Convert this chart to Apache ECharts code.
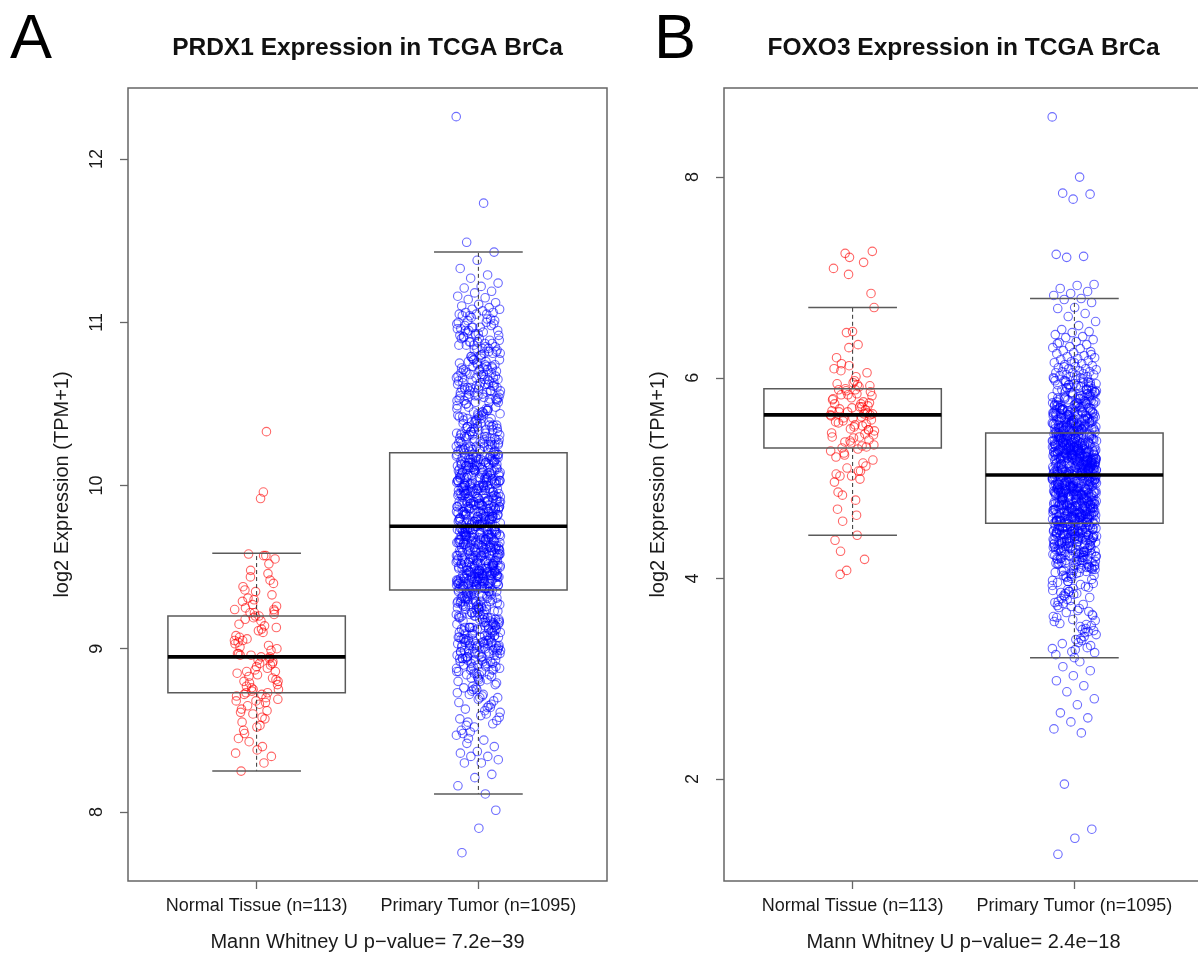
<!DOCTYPE html>
<html>
<head>
<meta charset="utf-8">
<title>PRDX1 and FOXO3 expression in TCGA BrCa</title>
<script src="https://cdn.jsdelivr.net/npm/echarts@6/dist/echarts.min.js"></script>
<style>
  html, body { margin: 0; padding: 0; background: #ffffff; overflow: hidden; }
  /* the right-hand frame runs a few pixels past the window edge */
  #chart { width: 1210px; height: 959px; }
</style>
</head>
<body>
<div id="chart"></div>
<script>
// ---- data -------------------------------------------------------------
const groupNames = ['Normal Tissue', 'Primary Tumor'];
const panelTitles = ['PRDX1 Expression in TCGA BrCa', 'FOXO3 Expression in TCGA BrCa'];
const panelLetters = ['A', 'B'];
const pValues = ['7.2e\u221239', '2.4e\u221218'];
const prdx1Ticks = [8, 9, 10, 11, 12];
const foxo3Ticks = [2, 4, 6, 8];

// log2(TPM+1), one value per sample
const prdx1Normal = [
  9.05, 8.72, 9.36, 8.91, 9.20, 8.45, 9.57, 8.83, 9.13, 8.66,
  9.29, 8.95, 8.60, 9.08, 9.96, 8.77, 9.24, 8.52, 9.01, 8.88,
  9.44, 8.69, 9.17, 8.80, 8.34, 9.22, 8.97, 8.57, 9.31, 8.86,
  9.11, 8.63, 9.52, 8.74, 9.03, 8.40, 9.25, 8.92, 8.68, 9.15,
  10.33, 8.79, 9.00, 8.53, 9.38, 8.90, 9.19, 8.71, 8.30, 9.06,
  9.23, 8.84, 8.61, 9.46, 8.96, 8.75, 9.12, 8.48, 9.33, 8.87,
  9.04, 8.67, 9.58, 8.81, 9.20, 8.55, 8.94, 9.27, 8.36, 9.10,
  8.73, 9.40, 8.89, 9.07, 8.62, 9.22, 8.78, 9.92, 8.50, 8.99,
  9.30, 8.85, 9.14, 8.65, 9.55, 8.93, 8.25, 9.02, 8.76, 9.24,
  8.58, 9.18, 8.82, 9.35, 8.97, 8.70, 8.43, 9.26, 8.91, 9.05,
  9.42, 8.75, 8.68, 9.57, 8.86, 9.21, 8.38, 8.96, 8.73, 9.48,
  8.80, 8.95, 8.72
];

const prdx1Tumor = [
  12.26, 11.73, 11.49, 11.43, 11.38, 11.33, 11.29, 11.27, 11.24, 11.22, 11.21, 11.19, 11.18, 11.16, 11.15,
  11.14, 11.12, 11.11, 11.10, 11.09, 11.08, 11.08, 11.07, 11.06, 11.06, 11.05, 11.05, 11.05,
  11.04, 10.83, 10.97, 10.91, 11.02, 10.86, 10.99, 10.81, 10.94, 11.01, 10.88, 10.96, 10.84, 11.03, 10.92,
  10.80, 10.98, 10.87, 10.93, 11.00, 10.85, 10.95, 10.82, 10.90, 11.04, 10.89, 10.97, 10.81, 10.94, 10.86,
  10.99, 10.84, 10.92, 11.02, 10.88, 10.95, 10.80, 10.91, 10.98, 10.83, 10.96, 10.87, 11.01, 10.85, 10.93,
  10.90, 10.82, 10.97, 10.89, 10.84, 10.95, 10.81, 10.92, 10.86, 11.00, 10.88,
  10.52, 10.71, 10.63, 10.58, 10.77, 10.66, 10.54, 10.69, 10.61, 10.74, 10.57, 10.65, 10.79, 10.51, 10.68,
  10.60, 10.73, 10.55, 10.67, 10.62, 10.76, 10.53, 10.70, 10.59, 10.64, 10.78, 10.56, 10.72, 10.50, 10.66,
  10.61, 10.75, 10.57, 10.68, 10.53, 10.63, 10.71, 10.58, 10.77, 10.52, 10.65, 10.60, 10.74, 10.55, 10.69,
  10.62, 10.79, 10.54, 10.67, 10.59, 10.72, 10.51, 10.64, 10.76, 10.56, 10.70, 10.61, 10.66, 10.53, 10.73,
  10.58, 10.68, 10.50, 10.63, 10.75, 10.55, 10.71, 10.60, 10.65, 10.78, 10.52, 10.69, 10.57, 10.62, 10.74,
  10.54, 10.67, 10.59, 10.72, 10.51, 10.64, 10.77, 10.56, 10.70, 10.61, 10.66, 10.53, 10.73, 10.58, 10.60,
  10.21, 10.38, 10.27, 10.45, 10.32, 10.24, 10.41, 10.29, 10.36, 10.22, 10.47, 10.33, 10.26, 10.43, 10.30,
  10.25, 10.39, 10.21, 10.34, 10.48, 10.28, 10.42, 10.23, 10.37, 10.31, 10.44, 10.26, 10.35, 10.20, 10.40,
  10.29, 10.46, 10.24, 10.33, 10.38, 10.22, 10.41, 10.27, 10.49, 10.30, 10.36, 10.21, 10.43, 10.32, 10.25,
  10.39, 10.28, 10.45, 10.23, 10.34, 10.40, 10.26, 10.47, 10.31, 10.37, 10.22, 10.42, 10.29, 10.35, 10.24,
  10.44, 10.30, 10.21, 10.38, 10.27, 10.46, 10.33, 10.25, 10.41, 10.20, 10.36, 10.28, 10.43, 10.32, 10.23,
  10.48, 10.34, 10.26, 10.39, 10.22, 10.31, 10.45, 10.29, 10.37, 10.24, 10.42, 10.30, 10.21, 10.35, 10.27,
  10.40, 10.23, 10.33, 10.47, 10.28, 10.36, 10.25, 10.44, 10.31, 10.22,
  9.76, 10.02, 9.88, 10.14, 9.81, 9.95, 10.09, 9.79, 10.17, 9.91, 10.05, 9.84, 9.98, 10.11, 9.77,
  10.00, 9.86, 10.15, 9.93, 9.80, 10.07, 9.89, 10.19, 9.83, 9.97, 10.03, 9.78, 10.12, 9.90, 10.06,
  9.85, 10.16, 9.94, 9.75, 10.01, 9.87, 10.10, 9.82, 9.96, 10.18, 9.79, 10.04, 9.92, 10.13, 9.88,
  9.99, 9.77, 10.08, 9.84, 10.15, 9.90, 10.02, 9.81, 9.95, 10.11, 9.86, 10.19, 9.76, 10.05, 9.93,
  10.09, 9.83, 9.97, 10.14, 9.80, 10.00, 9.89, 10.17, 9.78, 10.03, 9.94, 10.12, 9.85, 9.98, 10.07,
  9.75, 10.16, 9.91, 10.04, 9.82, 9.96, 10.10, 9.87, 10.18, 9.79, 10.01, 9.92, 10.13, 9.84, 9.99,
  10.06, 9.77, 9.95, 10.15, 9.88, 10.02, 9.81, 10.11, 9.93, 9.76, 10.08, 9.86, 10.19, 9.90, 10.00,
  9.83, 10.14, 9.97, 9.78, 10.05, 9.89, 10.17, 9.80, 9.94, 10.09, 9.85, 10.03, 9.98, 10.12, 9.75,
  9.92, 10.07, 9.79, 10.16, 9.87, 10.01, 9.82, 9.96, 10.13, 9.90, 10.04, 9.77, 10.10, 9.84, 9.99,
  10.18, 9.88, 10.02, 9.81, 9.95, 10.15, 9.76, 10.06, 9.91, 10.11, 9.86, 9.97, 10.00, 9.83, 10.09,
  9.78, 10.14, 9.93, 10.03, 9.89, 10.17, 9.80, 9.98, 10.08, 9.85, 10.12, 9.94, 9.75, 10.05, 9.90,
  10.01, 9.82, 10.16, 9.96, 9.79, 10.10, 9.87, 10.04, 9.92, 10.19, 9.84, 9.99, 10.13, 9.77, 10.07,
  9.88, 10.00, 9.81, 10.15, 9.95, 10.02, 9.86, 10.11, 9.76, 9.93, 10.06, 9.90, 10.18, 9.83, 9.97,
  10.09, 9.78, 10.04, 9.91, 10.14, 9.85, 9.99, 10.01, 9.80, 10.12, 9.94, 10.05, 9.87, 10.16, 9.89,
  9.76, 10.08, 9.96, 10.03, 9.82, 10.17, 9.92, 9.79, 10.10, 9.86, 10.00, 9.98, 10.13, 9.84, 10.07,
  9.90, 10.19, 9.77, 10.02, 9.94, 9.81, 10.15, 9.88, 10.06, 9.95, 10.11, 9.83, 10.04, 9.75, 9.97,
  10.14, 9.85, 10.01, 9.91, 10.09, 9.79, 10.18, 9.93, 9.99, 10.05, 9.87, 10.12, 9.80, 10.00, 9.96,
  9.82, 10.07, 9.89, 10.16, 9.78, 10.03, 9.92, 10.10, 9.86, 9.98, 10.13, 9.84, 10.02, 9.90, 10.08,
  9.95, 9.81, 10.17, 9.88,
  9.37, 9.62, 9.48, 9.71, 9.41, 9.55, 9.68, 9.39, 9.59, 9.45, 9.73, 9.52, 9.43, 9.66, 9.50,
  9.57, 9.38, 9.69, 9.46, 9.61, 9.42, 9.74, 9.53, 9.40, 9.64, 9.49, 9.70, 9.36, 9.58, 9.44,
  9.67, 9.51, 9.39, 9.72, 9.47, 9.60, 9.41, 9.56, 9.65, 9.43, 9.70, 9.54, 9.37, 9.63, 9.48,
  9.44, 9.69, 9.52, 9.38, 9.61, 9.45, 9.73, 9.50, 9.66, 9.40, 9.58, 9.47, 9.71, 9.42, 9.55,
  9.62, 9.36, 9.53, 9.68, 9.46, 9.59, 9.41, 9.74, 9.49, 9.64, 9.39, 9.57, 9.44, 9.70, 9.51,
  9.40, 9.66, 9.48, 9.72, 9.43, 9.56, 9.63, 9.37, 9.60, 9.46, 9.69, 9.52, 9.42, 9.67, 9.54,
  9.58, 9.45, 9.71, 9.38, 9.62, 9.50, 9.65, 9.41, 9.73, 9.47, 9.55, 9.39, 9.68, 9.44, 9.61,
  9.49, 9.74, 9.42, 9.57, 9.36, 9.64, 9.53, 9.70, 9.46, 9.59, 9.40, 9.66, 9.51, 9.43, 9.69,
  9.63, 9.48, 9.37, 9.72, 9.55, 9.44, 9.67, 9.50, 9.60, 9.41, 9.73, 9.54, 9.39, 9.62, 9.47,
  9.52, 9.68, 9.43, 9.58, 9.38, 9.71, 9.46, 9.65, 9.49, 9.61, 9.36, 9.56, 9.70, 9.45, 9.64,
  9.41, 9.57, 9.74, 9.50, 9.66, 9.42, 9.59, 9.47, 9.69, 9.39, 9.63, 9.53, 9.72, 9.44, 9.55,
  9.67, 9.40, 9.61, 9.48, 9.73, 9.37, 9.56, 9.65, 9.45, 9.70, 9.51, 9.38, 9.60, 9.46, 9.68,
  9.54, 9.43, 9.71, 9.49, 9.62, 9.41, 9.58, 9.74, 9.47, 9.64, 9.52, 9.39, 9.66, 9.44, 9.57,
  9.70, 9.36, 9.59, 9.50, 9.67, 9.42, 9.63, 9.48, 9.72, 9.45, 9.55, 9.69, 9.40, 9.61, 9.53,
  9.46, 9.65, 9.38, 9.73, 9.51, 9.60, 9.43, 9.68, 9.49, 9.57, 9.37, 9.71, 9.54, 9.44, 9.62,
  9.58, 9.47, 9.70, 9.41, 9.64, 9.52, 9.36, 9.66, 9.50, 9.74, 9.45, 9.59, 9.39, 9.69, 9.55,
  9.42, 9.61, 9.48, 9.72, 9.53, 9.67, 9.40, 9.56, 9.63, 9.46, 9.71, 9.51, 9.38, 9.65, 9.49,
  9.60, 9.44, 9.68, 9.37, 9.57, 9.73, 9.50, 9.62, 9.43, 9.66, 9.54, 9.41, 9.70, 9.47, 9.58,
  9.52, 9.64, 9.45,
  9.11, 9.28, 9.19, 9.34, 9.14, 9.25, 9.31, 9.12, 9.22, 9.17, 9.33, 9.26, 9.15, 9.29, 9.20,
  9.24, 9.13, 9.35, 9.18, 9.27, 9.10, 9.30, 9.21, 9.16, 9.32, 9.23, 9.12, 9.28, 9.19, 9.34,
  9.15, 9.26, 9.31, 9.11, 9.22, 9.29, 9.17, 9.33, 9.14, 9.25, 9.20, 9.35, 9.13, 9.27, 9.18,
  9.30, 9.16, 9.24, 9.10, 9.32, 9.21, 9.28, 9.12, 9.26, 9.19, 9.34, 9.15, 9.23, 9.31, 9.11,
  9.22, 9.29, 9.14, 9.33, 9.18, 9.25, 9.13, 9.30, 9.20, 9.35, 9.16, 9.27, 9.12, 9.24, 9.32,
  9.17, 9.28, 9.10, 9.21, 9.34, 9.15, 9.26, 9.19, 9.31, 9.13, 9.23, 9.29, 9.11, 9.33, 9.20,
  9.25, 9.14, 9.30, 9.18, 9.27, 9.12, 9.35, 9.22, 9.16, 9.32, 9.24, 9.10, 9.28, 9.19, 9.26,
  9.13, 9.31, 9.21, 9.17, 9.29,
  9.05, 8.88, 9.01, 8.95, 9.08, 8.83, 8.98, 9.03, 8.91, 9.07, 8.86, 8.99, 9.04, 8.93, 8.80,
  9.00, 9.06, 8.89, 8.96, 9.02, 8.84, 9.09, 8.97, 8.92, 9.05, 8.87, 9.01, 8.94, 8.81, 9.03,
  8.99, 9.07, 8.90, 9.04, 8.85, 8.96, 9.08, 8.93, 9.00, 8.82, 9.06, 8.98, 8.88, 9.02, 8.95,
  9.09, 8.91, 9.03, 8.86, 9.05, 8.97, 8.79, 9.01, 8.94, 9.07, 8.89, 8.99, 9.04, 8.84, 8.96,
  9.02, 8.92, 9.08, 8.87, 9.00, 8.95, 9.06, 8.83, 8.98, 9.03, 8.90, 9.05, 8.93, 8.81, 9.01,
  8.97, 9.09, 8.88, 9.04, 8.94, 8.99, 8.85, 9.07, 8.91, 9.02, 8.96, 8.80, 9.06, 8.92, 9.00,
  8.86, 9.03, 8.95, 9.08, 8.90, 8.98, 9.05, 8.82, 9.01, 8.93, 9.04, 8.87, 8.97, 9.07, 8.89,
  8.99, 9.02, 8.84, 8.94, 9.06,
  8.77, 8.61, 8.72, 8.53, 8.68, 8.75, 8.57, 8.64, 8.49, 8.70, 8.59, 8.76, 8.66, 8.52, 8.73,
  8.62, 8.55, 8.78, 8.69, 8.50, 8.65, 8.74, 8.58, 8.71, 8.63, 8.54, 8.76, 8.67, 8.60, 8.72,
  8.56, 8.70, 8.48, 8.64, 8.75,
  8.47, 8.44, 8.42, 8.40, 8.37, 8.36, 8.34, 8.34, 8.32, 8.30, 8.30, 8.23, 8.21, 8.16, 8.11, 8.45,
  8.01, 7.90, 7.75
];

const foxo3Normal = [
  5.63, 5.29, 6.07, 5.48, 5.80, 4.96, 5.71, 5.36, 7.26, 5.88,
  5.55, 5.12, 6.30, 5.67, 5.41, 4.83, 5.92, 5.60, 5.21, 5.76,
  6.45, 5.33, 5.84, 5.02, 5.65, 5.49, 7.09, 5.74, 5.25, 5.58,
  5.97, 4.69, 5.44, 5.83, 5.62, 5.07, 6.14, 5.38, 5.70, 4.38,
  5.52, 5.89, 5.18, 6.01, 5.66, 5.31, 7.20, 5.78, 4.99, 5.57,
  5.86, 5.40, 6.20, 5.64, 5.10, 5.47, 5.93, 4.27, 5.72, 5.35,
  6.09, 5.61, 5.23, 5.82, 5.53, 4.86, 5.68, 7.03, 5.45, 5.91,
  5.30, 5.75, 6.46, 5.56, 5.15, 5.87, 5.43, 4.63, 5.69, 6.05,
  5.37, 5.79, 5.07, 5.60, 6.84, 5.51, 5.94, 4.19, 5.66, 5.27,
  6.33, 5.83, 5.48, 5.02, 5.74, 5.32, 7.24, 5.64, 4.78, 5.88,
  5.54, 6.12, 5.41, 5.71, 4.57, 5.63, 5.95, 5.04, 7.15, 4.08,
  6.70, 4.43, 4.04
];

const foxo3Tumor = [
  8.60, 8.00, 7.84, 7.83, 7.78, 7.23, 7.21, 7.20, 6.93, 6.92, 6.89, 6.86, 6.84, 6.82,
  6.79, 6.78, 6.75, 6.70, 6.69, 6.64, 6.61, 6.56, 6.52, 6.48, 6.46, 6.45, 6.43, 6.41, 6.40,
  6.38, 6.36, 6.35, 6.33, 6.31, 6.30, 6.29, 6.27, 6.26, 6.25, 6.24, 6.22, 6.21, 6.20, 6.19,
  6.18, 6.17, 6.16, 6.15, 6.14, 6.13, 6.12, 6.11, 6.10, 6.09, 6.09, 6.08, 6.07, 6.06, 6.06,
  6.05, 6.05, 6.04, 6.03, 6.03, 6.02, 6.02, 6.01, 6.01, 6.00, 6.00, 6.11, 6.23, 6.15, 6.34,
  5.46, 5.78, 5.61, 5.92, 5.52, 5.70, 5.85, 5.49, 5.66, 5.97, 5.57, 5.74, 5.50, 5.88, 5.63,
  5.81, 5.47, 5.69, 5.95, 5.55, 5.76, 5.59, 5.90, 5.48, 5.72, 5.64, 5.84, 5.53, 5.99, 5.67,
  5.58, 5.87, 5.45, 5.73, 5.62, 5.93, 5.51, 5.79, 5.68, 5.56, 5.83, 5.46, 5.71, 5.96, 5.60,
  5.75, 5.49, 5.89, 5.65, 5.54, 5.82, 5.47, 5.69, 5.94, 5.58, 5.77, 5.52, 5.86, 5.63, 5.50,
  5.91, 5.57, 5.72, 5.48, 5.80, 5.66, 5.98, 5.53, 5.74, 5.61, 5.87, 5.45, 5.68, 5.55, 5.84,
  5.62, 5.95, 5.51, 5.77, 5.46, 5.70, 5.59, 5.90, 5.64, 5.49, 5.81, 5.56, 5.73, 5.93, 5.52,
  5.67, 5.85, 5.47, 5.60, 5.78, 5.54, 5.97, 5.65, 5.50, 5.83, 5.71, 5.58, 5.88, 5.48, 5.75,
  5.53, 5.69, 5.92, 5.57, 5.46, 5.80, 5.63, 5.86, 5.51, 5.72, 5.96, 5.55, 5.66, 5.49, 5.79,
  5.89, 5.61, 5.45, 5.76, 5.58, 5.94, 5.52, 5.68, 5.82, 5.47, 5.64, 5.99, 5.56, 5.74, 5.50,
  5.70, 5.84, 5.54, 5.62, 5.91, 5.48, 5.77, 5.59, 5.87, 5.53, 5.67, 5.46, 5.81, 5.60, 5.95,
  5.57, 5.73, 5.49, 5.86, 5.65, 5.52, 5.78, 5.62, 5.93, 5.55, 5.70, 5.47, 5.83, 5.58, 5.68,
  5.51, 5.90, 5.64, 5.75, 5.46, 5.60, 5.85, 5.54, 5.71, 5.97, 5.49, 5.66, 5.80, 5.57, 5.63,
  5.76, 5.48, 5.88, 5.59, 5.69, 5.53, 5.82, 5.61, 5.50, 5.92, 5.56, 5.74, 5.47, 5.65, 5.79,
  5.52, 5.67, 5.55, 5.72, 5.58,
  5.04, 5.31, 5.16, 5.42, 5.09, 5.25, 5.37, 5.06, 5.21, 5.13, 5.40, 5.28, 5.11, 5.34, 5.19,
  5.27, 5.07, 5.44, 5.15, 5.32, 5.03, 5.23, 5.38, 5.10, 5.29, 5.17, 5.41, 5.05, 5.35, 5.20,
  5.12, 5.36, 5.24, 5.08, 5.30, 5.18, 5.43, 5.14, 5.26, 5.04, 5.33, 5.22, 5.39, 5.09, 5.27,
  5.40, 5.16, 5.06, 5.31, 5.20, 5.35, 5.11, 5.28, 5.03, 5.24, 5.42, 5.13, 5.37, 5.18, 5.07,
  5.25, 5.44, 5.10, 5.32, 5.15, 5.21, 5.38, 5.05, 5.29, 5.19, 5.34, 5.08, 5.41, 5.23, 5.14,
  5.36, 5.06, 5.26, 5.17, 5.43, 5.12, 5.30, 5.22, 5.04, 5.39, 5.16, 5.27, 5.09, 5.33, 5.20,
  5.13, 5.31, 5.40, 5.07, 5.24, 5.18, 5.35, 5.03, 5.28, 5.11, 5.42, 5.21, 5.15, 5.37, 5.25,
  5.08, 5.34, 5.19, 5.44, 5.10, 5.29, 5.23, 5.05, 5.38, 5.14, 5.32, 5.26, 5.12, 5.41, 5.17,
  5.30, 5.04, 5.22, 5.36, 5.16, 5.27, 5.09, 5.43, 5.20, 5.33, 5.06, 5.25, 5.39, 5.13, 5.28,
  5.18, 5.40, 5.11, 5.24, 5.35, 5.07, 5.31, 5.15, 5.21, 5.42, 5.03, 5.29, 5.19, 5.37, 5.10,
  5.26, 5.14, 5.33, 5.05, 5.23, 5.44, 5.17, 5.30, 5.08, 5.36, 5.22, 5.12, 5.39, 5.27, 5.16,
  5.34, 5.09, 5.20, 5.41, 5.13, 5.28, 5.04, 5.25, 5.38, 5.18, 5.31, 5.06, 5.22, 5.43, 5.15,
  5.29, 5.11, 5.35, 5.21, 5.07, 5.32, 5.24, 5.14, 5.40, 5.19, 5.26, 5.03, 5.37, 5.16, 5.30,
  5.10, 5.23, 5.42, 5.17, 5.34, 5.08, 5.27, 5.20, 5.36, 5.12, 5.31, 5.05, 5.25, 5.39, 5.18,
  5.33, 5.15, 5.06, 5.28, 5.41, 5.21, 5.09, 5.35, 5.24, 5.13, 5.38, 5.19, 5.30, 5.04, 5.26,
  5.22, 5.37, 5.11, 5.29, 5.16, 5.43, 5.07, 5.32, 5.20, 5.27, 5.14, 5.40, 5.10, 5.23, 5.34,
  5.05, 5.28, 5.18, 5.39, 5.12, 5.25, 5.31, 5.08, 5.22, 5.36, 5.15, 5.44, 5.19, 5.29, 5.06,
  5.24, 5.33, 5.13, 5.21, 5.38, 5.09, 5.30, 5.17, 5.42, 5.11, 5.26, 5.35, 5.04, 5.20, 5.32,
  5.14, 5.27, 5.07, 5.23,
  4.56, 4.88, 4.71, 4.97, 4.62, 4.80, 4.93, 4.59, 4.75, 5.01, 4.67, 4.84, 4.58, 4.91, 4.73,
  4.86, 4.60, 4.99, 4.69, 4.82, 4.55, 4.77, 4.95, 4.64, 4.89, 4.72, 5.02, 4.57, 4.85, 4.66,
  4.78, 4.94, 4.61, 4.83, 4.70, 4.98, 4.63, 4.87, 4.76, 4.56, 4.92, 4.68, 5.00, 4.74, 4.81,
  4.59, 4.90, 4.72, 4.65, 4.96, 4.79, 4.57, 4.85, 4.70, 5.01, 4.62, 4.88, 4.75, 4.60, 4.94,
  4.83, 4.67, 4.99, 4.58, 4.80, 4.73, 4.92, 4.64, 4.86, 4.55, 4.77, 4.97, 4.69, 4.89, 4.61,
  4.74, 5.02, 4.66, 4.84, 4.57, 4.91, 4.71, 4.81, 4.63, 4.95, 4.78, 4.59, 4.87, 4.68, 5.00,
  4.62, 4.82, 4.76, 4.93, 4.56, 4.70, 4.98, 4.65, 4.85, 4.73, 4.90, 4.58, 4.79, 4.96, 4.67,
  4.88, 4.60, 4.75, 5.01, 4.69, 4.83, 4.55, 4.92, 4.72, 4.86, 4.64, 4.99, 4.77, 4.61, 4.94,
  4.71, 4.89, 4.57, 4.80, 4.97, 4.66, 4.84, 4.74, 4.59, 4.91, 4.68, 5.02, 4.78, 4.63, 4.87,
  4.96, 4.65, 4.82, 4.58, 4.90, 4.73, 4.99, 4.62, 4.85, 4.70, 4.93, 4.56, 4.79, 4.88, 4.67,
  4.75, 5.00, 4.61, 4.84, 4.69, 4.95, 4.57, 4.81, 4.72, 4.98, 4.64, 4.86, 4.77, 4.60, 4.92,
  4.83, 4.68, 5.01, 4.59, 4.76, 4.90, 4.66, 4.87, 4.55, 4.80, 4.97, 4.71, 4.94, 4.63, 4.85,
  4.70, 4.91, 4.58, 4.78, 4.99, 4.65, 4.84, 4.73, 4.96, 4.61, 4.89, 4.67, 5.02, 4.74, 4.82,
  4.57, 4.93, 4.69, 4.86, 4.76, 4.62, 4.98, 4.72, 4.88, 4.56, 4.81, 4.95, 4.64, 4.79, 5.00,
  4.68, 4.85, 4.60, 4.92, 4.75, 4.83, 4.58, 4.97, 4.70, 4.87, 4.63, 4.90, 4.77, 4.66, 4.94,
  4.80, 4.59, 4.99, 4.73, 4.86, 4.62, 4.91, 4.69, 4.84, 4.56, 4.96, 4.78, 4.65, 4.88, 4.71,
  5.01, 4.61, 4.82, 4.74, 4.93, 4.57, 4.87, 4.67, 4.98, 4.72, 4.85, 4.60, 4.90, 4.76, 4.64,
  4.95, 4.70, 4.83, 4.58, 4.89, 4.79, 5.02, 4.66, 4.81, 4.63, 4.92, 4.75, 4.97, 4.68, 4.86,
  4.73, 4.90, 4.61,
  4.52, 4.31, 4.45, 4.08, 4.38, 4.49, 4.19, 4.41, 3.97, 4.27, 4.53, 4.35, 4.12, 4.47, 4.23,
  4.40, 4.02, 4.50, 4.29, 4.15, 4.44, 4.36, 3.93, 4.25, 4.51, 4.33, 4.10, 4.46, 4.21, 4.39,
  4.54, 4.17, 4.43, 4.30, 4.05, 4.48, 4.26, 4.37, 3.99, 4.42, 4.14, 4.50, 4.32, 4.22, 4.46,
  4.07, 4.39, 4.28, 4.52, 4.18, 4.44, 3.95, 4.34, 4.48, 4.11, 4.41, 4.24, 4.53, 4.03, 4.37,
  4.45, 4.20, 4.31, 4.49, 4.13, 4.40, 4.27, 3.91, 4.47, 4.35, 4.16, 4.51, 4.09, 4.42, 4.29,
  4.38, 4.54, 4.22, 4.06, 4.44, 4.33, 4.48, 4.15, 4.26, 4.01, 4.43, 4.36, 4.52, 4.19, 4.30,
  4.47, 4.10, 4.40, 4.25, 4.50, 3.96, 4.34, 4.45, 4.17, 4.39, 4.28, 4.53, 4.04, 4.42, 4.21,
  4.32, 4.49, 4.14, 4.37, 4.46, 4.23, 3.98, 4.41, 4.30, 4.51, 4.08, 4.44, 4.27, 4.35, 4.12,
  4.48, 4.20, 4.43, 4.02, 4.38, 4.52, 4.26, 4.16, 4.45, 4.33, 3.92, 4.40, 4.50, 4.24, 4.36,
  4.11, 4.47, 4.29, 4.54, 4.18, 4.41, 4.05, 4.34, 4.49, 4.22, 4.39, 3.94, 4.44, 4.31, 4.13,
  4.46, 4.27, 4.51, 4.09, 4.37, 4.20, 4.43, 4.00, 4.32, 4.48, 4.15, 4.40, 4.25, 4.53, 4.07,
  4.35, 4.42, 4.18, 4.50, 4.28, 3.90, 4.45, 4.23, 4.38, 4.03, 4.47, 4.30, 4.14, 4.52, 4.34,
  4.21, 4.44, 4.10, 4.39, 4.49, 4.26, 3.97, 4.36, 4.42, 4.16, 4.53, 4.32, 4.06, 4.46, 4.24,
  4.41, 4.19, 4.48, 4.28, 4.37,
  3.88, 3.52, 3.75, 3.33, 3.84, 3.61, 3.42, 3.79, 3.26, 3.68, 3.86, 3.47, 3.72, 3.57, 3.38,
  3.82, 3.64, 3.29, 3.77, 3.50, 3.87, 3.44, 3.70, 3.35, 3.81, 3.59, 3.24, 3.74, 3.66, 3.48,
  3.85, 3.55, 3.31, 3.78, 3.62, 3.40, 3.83, 3.53, 3.21, 3.73, 3.46, 3.89, 3.58, 3.36, 3.80,
  3.67, 3.27, 3.76, 3.49, 3.85, 3.63, 3.39, 3.71, 3.54, 3.87, 3.30,
  3.17, 3.12, 3.08, 3.03, 2.98, 2.93, 2.87, 2.80, 2.74, 2.66, 2.61, 2.57, 2.50, 2.46,
  1.95, 1.50, 1.41, 1.25
];

// box summaries per group: [lower whisker, Q1, median, Q3, upper whisker]
const prdx1Box = [
  [8.25, 8.73, 8.95, 9.20, 9.585],
  [8.11, 9.36, 9.75, 10.20, 11.43]
];
const foxo3Box = [
  [4.43, 5.30, 5.63, 5.89, 6.70],
  [3.21, 4.55, 5.03, 5.45, 6.79]
];

// ---- drawing ----------------------------------------------------------
const FONT = "'Liberation Sans', Arial, Helvetica, sans-serif";
const TEXT = '#1a1a1a';
const FRAME = '#666666';
const PANEL_TOP = 88;
const PANEL_H = 793;
const PANEL_W = 479;
const panelLeft = [128, 724];
const yRanges = [[7.5766, 12.4356], [0.984, 8.888]];
const yTicks = [prdx1Ticks, foxo3Ticks];
const normals = [prdx1Normal, foxo3Normal];
const tumors = [prdx1Tumor, foxo3Tumor];
const boxes = [prdx1Box, foxo3Box];
const pointColors = ['rgba(255,0,0,0.75)', 'rgba(0,0,255,0.72)'];

// sideways spread of the points around each group centre (±0.1 on the x scale);
// golden-ratio offsets keep neighbouring samples from landing on each other
function spread(values, centre) {
  return values.map((v, i) => [centre + (((i * 0.6180339887) % 1) - 0.5) * 0.2, v]);
}

function renderBox(params, api) {
  const c = api.value(0);
  const lo = api.value(1), q1 = api.value(2), md = api.value(3), q3 = api.value(4), hi = api.value(5);
  const p = (x, y) => api.coord([x, y]);
  const tl = p(c - 0.4, q3), br = p(c + 0.4, q1);
  const greyLine = { stroke: '#5a5a5a', lineWidth: 1.5 };
  const dash = { stroke: '#333333', lineWidth: 1, lineDash: [4, 3] };
  const seg = (a, b, style) => ({
    type: 'line',
    shape: { x1: a[0], y1: a[1], x2: b[0], y2: b[1] },
    style: style
  });
  return {
    type: 'group',
    children: [
      seg(p(c, q3), p(c, hi), dash),
      seg(p(c, q1), p(c, lo), dash),
      seg(p(c - 0.2, hi), p(c + 0.2, hi), greyLine),
      seg(p(c - 0.2, lo), p(c + 0.2, lo), greyLine),
      {
        type: 'rect',
        shape: { x: tl[0], y: tl[1], width: br[0] - tl[0], height: br[1] - tl[1] },
        style: { fill: 'none', stroke: '#5a5a5a', lineWidth: 1.5 }
      },
      seg(p(c - 0.4, md), p(c + 0.4, md), { stroke: '#000000', lineWidth: 3.6 })
    ]
  };
}

const grids = [], xAxes = [], yAxes = [], series = [], graphics = [];

for (let k = 0; k < 2; k++) {
  grids.push({
    left: panelLeft[k], top: PANEL_TOP, width: PANEL_W, height: PANEL_H,
    show: true, borderColor: FRAME, borderWidth: 1.5, backgroundColor: 'transparent'
  });
  const nLabels = ['(n=' + normals[k].length + ')', '(n=' + tumors[k].length + ')'];
  xAxes.push({
    gridIndex: k, type: 'value', min: 0.42, max: 2.58,
    axisLine: { show: false },
    splitLine: { show: false },
    axisTick: { show: true, length: 8, customValues: [1, 2], lineStyle: { color: FRAME, width: 1.3 } },
    axisLabel: {
      customValues: [1, 2], margin: 16, fontSize: 18, fontFamily: FONT, color: TEXT,
      formatter: v => groupNames[v - 1] + ' ' + nLabels[v - 1]
    }
  });
  yAxes.push({
    gridIndex: k, type: 'value', min: yRanges[k][0], max: yRanges[k][1],
    name: 'log2 Expression (TPM+1)', nameLocation: 'middle', nameGap: 56, nameRotate: 90,
    nameTextStyle: { fontSize: 20, fontFamily: FONT, color: TEXT },
    axisLine: { show: false },
    splitLine: { show: false },
    axisTick: { show: true, length: 8, customValues: yTicks[k], lineStyle: { color: FRAME, width: 1.3 } },
    axisLabel: {
      customValues: yTicks[k], rotate: 90, margin: 22, fontSize: 18, fontFamily: FONT, color: TEXT
    }
  });
  [normals[k], tumors[k]].forEach((vals, g) => {
    series.push({
      type: 'scatter', xAxisIndex: k, yAxisIndex: k, z: 2,
      data: spread(vals, g + 1),
      symbol: 'circle', symbolSize: 8.5,
      itemStyle: { color: 'rgba(0,0,0,0)', borderColor: pointColors[g], borderWidth: 1.1 },
      silent: true, animation: false, clip: true
    });
  });
  series.push({
    type: 'custom', xAxisIndex: k, yAxisIndex: k, z: 3,
    data: boxes[k].map((b, g) => [g + 1].concat(b)),
    encode: { x: 0, y: [1, 2, 3, 4, 5] },
    renderItem: renderBox,
    silent: true, animation: false, clip: true
  });

  const centre = panelLeft[k] + PANEL_W / 2;
  graphics.push({
    type: 'text',
    style: {
      x: centre, y: 48, text: panelTitles[k],
      font: 'bold 24.5px ' + FONT, fill: '#111111',
      align: 'center', verticalAlign: 'middle', textAlign: 'center', textVerticalAlign: 'middle'
    }
  });
  graphics.push({
    type: 'text',
    style: {
      x: centre, y: 942, text: 'Mann Whitney U p\u2212value= ' + pValues[k],
      font: '20px ' + FONT, fill: TEXT,
      align: 'center', verticalAlign: 'middle', textAlign: 'center', textVerticalAlign: 'middle'
    }
  });
  graphics.push({
    type: 'text',
    style: {
      x: k === 0 ? 10 : 654, y: 41, text: panelLetters[k],
      font: '63px ' + FONT, fill: '#000000',
      align: 'left', verticalAlign: 'middle', textAlign: 'left', textVerticalAlign: 'middle'
    }
  });
}

const chart = echarts.init(document.getElementById('chart'), null, { renderer: 'canvas' });
chart.setOption({
  backgroundColor: '#ffffff',
  animation: false,
  grid: grids,
  xAxis: xAxes,
  yAxis: yAxes,
  series: series,
  graphic: graphics
});
</script>
</body>
</html>
